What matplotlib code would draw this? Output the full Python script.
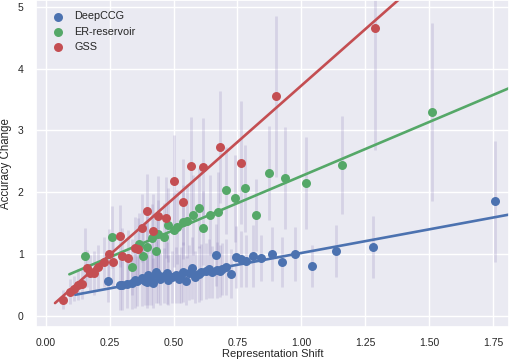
import numpy as np
import matplotlib
matplotlib.use("Agg")
import matplotlib.pyplot as plt
import seaborn as sns

sns.set_theme(style="darkgrid")
plt.rcParams['font.family'] = ['Liberation Sans', 'DejaVu Sans']

# DeepCCG: representation shift, accuracy change, error half-length
deepccg_x = [0.245, 0.29, 0.30, 0.318, 0.338, 0.35, 0.357, 0.376, 0.39, 0.395,
             0.40, 0.41, 0.42, 0.43, 0.44, 0.447, 0.463, 0.475, 0.48, 0.495,
             0.51, 0.522, 0.53, 0.537, 0.55, 0.56, 0.573, 0.585, 0.60, 0.608,
             0.627, 0.64, 0.65, 0.667, 0.67, 0.68, 0.69, 0.705, 0.725, 0.745,
             0.765, 0.785, 0.81, 0.843, 0.885, 0.925, 0.977, 1.04, 1.135, 1.28,
             1.76]
deepccg_y = [0.57, 0.50, 0.49, 0.51, 0.53, 0.58, 0.56, 0.61, 0.57, 0.55,
             0.66, 0.63, 0.53, 0.71, 0.66, 0.60, 0.65, 0.69, 0.58, 0.63,
             0.66, 0.60, 0.66, 0.71, 0.57, 0.70, 0.77, 0.63, 0.68, 0.71,
             0.72, 0.76, 0.71, 0.98, 0.74, 0.72, 0.76, 0.79, 0.68, 0.95,
             0.92, 0.89, 0.97, 0.94, 1.00, 0.87, 1.00, 0.81, 1.05, 1.11,
             1.85]
deepccg_err = [0.35, 0.40, 0.40, 0.38, 0.42, 0.45, 0.40, 0.45, 0.40, 0.42,
               0.48, 0.45, 0.40, 0.50, 0.45, 0.42, 0.45, 0.50, 0.40, 0.42,
               0.45, 0.40, 0.45, 0.48, 0.40, 0.45, 0.50, 0.42, 0.45, 0.45,
               0.45, 0.48, 0.42, 0.50, 0.45, 0.42, 0.42, 0.45, 0.40, 0.50,
               0.45, 0.42, 0.50, 0.37, 0.43, 0.40, 0.43, 0.34, 0.42, 0.50,
               0.98]

er_x = [0.154, 0.26, 0.338, 0.365, 0.38, 0.395, 0.415, 0.43, 0.44, 0.463,
        0.48, 0.50, 0.515, 0.537, 0.553, 0.577, 0.60, 0.617, 0.643, 0.673,
        0.705, 0.74, 0.78, 0.823, 0.875, 0.937, 1.02, 1.16, 1.51]
er_y = [0.97, 1.28, 0.79, 1.16, 0.97, 1.11, 1.26, 1.05, 1.32, 1.27,
        1.47, 1.39, 1.43, 1.52, 1.53, 1.63, 1.74, 1.42, 1.63, 1.68,
        2.03, 1.90, 2.06, 1.63, 2.31, 2.23, 2.15, 2.44, 3.29]
er_err = [0.45, 0.50, 0.45, 0.50, 0.45, 0.50, 0.55, 0.50, 0.55, 0.55,
          0.60, 0.60, 0.60, 0.60, 0.60, 0.65, 0.65, 0.60, 0.65, 0.65,
          0.70, 0.70, 0.70, 0.59, 0.76, 0.82, 0.74, 0.80, 1.44]

gss_x = [0.069, 0.095, 0.11, 0.126, 0.14, 0.16, 0.173, 0.19, 0.205, 0.228,
         0.248, 0.263, 0.29, 0.30, 0.32, 0.35, 0.36, 0.377, 0.396, 0.42,
         0.44, 0.47, 0.503, 0.535, 0.57, 0.615, 0.68, 0.765, 0.90, 1.29]
gss_y = [0.26, 0.39, 0.44, 0.50, 0.52, 0.77, 0.69, 0.69, 0.79, 0.87,
         1.00, 0.87, 1.29, 0.97, 0.93, 1.10, 1.08, 1.42, 1.69, 1.37,
         1.61, 1.59, 2.18, 1.84, 2.42, 2.40, 2.73, 2.48, 3.55, 4.66]
gss_err = [0.15, 0.20, 0.20, 0.25, 0.25, 0.30, 0.30, 0.35, 0.35, 0.40,
           0.40, 0.40, 0.50, 0.45, 0.45, 0.50, 0.50, 0.55, 0.60, 0.60,
           0.65, 0.65, 0.75, 0.70, 0.80, 0.80, 0.90, 1.00, 1.30, 1.97]

# linear fits (slope, intercept, start x)
fits = {
    'DeepCCG': (0.764, 0.252, 0.115),
    'ER-reservoir': (1.75, 0.51, 0.092),
    'GSS': (3.65, 0.074, 0.036),
}

series = [
    ('DeepCCG', deepccg_x, deepccg_y, deepccg_err, '#4C72B0'),
    ('ER-reservoir', er_x, er_y, er_err, '#55A868'),
    ('GSS', gss_x, gss_y, gss_err, '#C44E52'),
]

fig = plt.figure(figsize=(5.09, 3.62), dpi=100)
ax = fig.add_axes([0.071, 0.097, 0.929, 0.903])

for name, x, y, err, color in series:
    ax.errorbar(x, y, yerr=err, fmt='none', ecolor='#8172B3', alpha=0.2,
                elinewidth=2, zorder=1)

for name, x, y, err, color in series:
    ax.scatter(x, y, s=42, color=color, linewidths=0, label=name, zorder=3)
    slope, intercept, x0 = fits[name]
    xs = np.array([x0, 2.0])
    ax.plot(xs, slope * xs + intercept, color=color, lw=1.9, zorder=2)

ax.set_xlim(-0.038, 1.813)
ax.set_ylim(-0.18, 5.11)
ax.set_xticks(np.arange(0, 1.76, 0.25))
ax.set_yticks(range(6))
ax.tick_params(axis='x', labelsize=7.5, pad=2)
ax.tick_params(axis='y', labelsize=7.5, pad=3)
ax.set_xlabel('Representation Shift', fontsize=8, labelpad=1)
ax.set_ylabel('Accuracy Change', fontsize=8.3, labelpad=4)
ax.legend(loc='upper left', fontsize=7.8, frameon=False, handletextpad=0.5,
          borderaxespad=0.65, labelspacing=0.5)

fig.savefig('out.png', dpi=100)
